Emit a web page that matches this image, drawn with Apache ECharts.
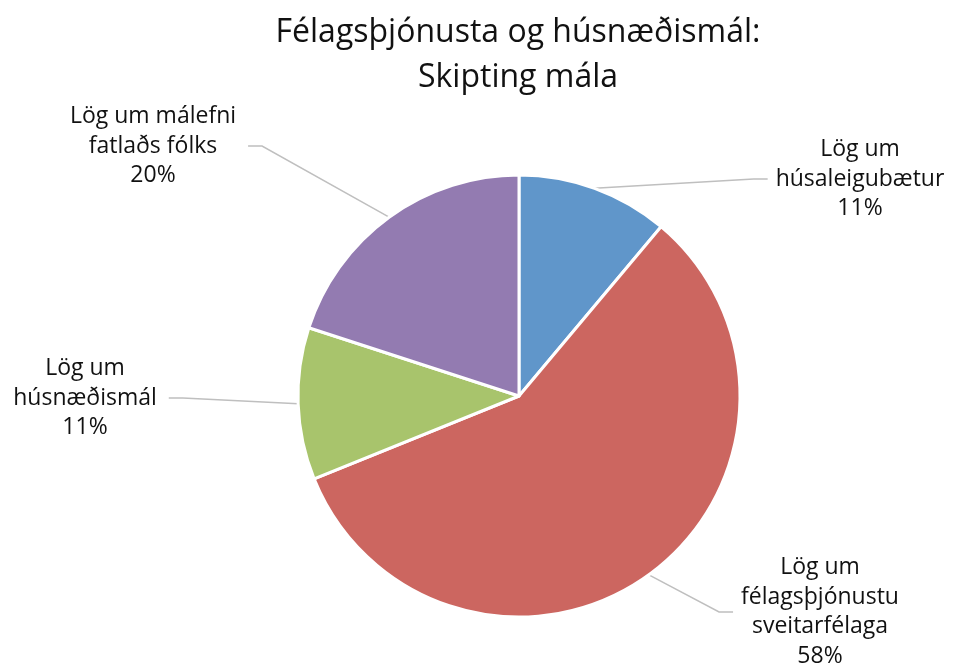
<!DOCTYPE html>
<html>
<head>
<meta charset="utf-8">
<title>Félagsþjónusta og húsnæðismál</title>
<script src="https://cdn.jsdelivr.net/npm/echarts@6/dist/echarts.min.js"></script>
<style>
  html, body { margin: 0; padding: 0; background: #fff; }
  #chart { width: 953px; height: 664px; }
</style>
</head>
<body>
<div id="chart"></div>
<script>
// flokkar og gildi (fjöldi mála)
var categories = [
    'Lög um\nhúsaleigubætur',
    'Lög um\nfélagsþjónustu\nsveitarfélaga',
    'Lög um\nhúsnæðismál',
    'Lög um málefni\nfatlaðs fólks'
];
var values = [5, 26, 5, 9];
var colors = ['#6096CA', '#CC6660', '#A8C46C', '#937BB1'];

// miðja hvers merkis (x, y) og hlið sem línan kemur að
var labelCenters = [[860, 179], [820, 612], [85, 398], [153, 146]];
var labelSide = ['left', 'left', 'right', 'right'];

var pieData = categories.map(function (name, i) {
    return { name: name, value: values[i] };
});

var myChart = echarts.init(document.getElementById('chart')),
    option = {
        animation: false,
        color: colors,
        textStyle: { fontFamily: 'Open Sans' },
        title: {
            text: 'Félagsþjónusta og húsnæðismál:\nSkipting mála',
            left: 513,
            textAlign: 'center',
            top: 5,
            textStyle: {
                fontFamily: 'Open Sans',
                fontWeight: 'normal',
                fontSize: 32,
                lineHeight: 45,
                color: '#111'
            }
        },
        series: [
            {
                type: 'pie',
                center: [519, 396],
                radius: 221,
                startAngle: 90,
                clockwise: true,
                percentPrecision: 0,
                avoidLabelOverlap: false,
                itemStyle: {
                    borderColor: '#fff',
                    borderWidth: 3
                },
                label: {
                    show: true,
                    position: 'outside',
                    formatter: '{b}\n{d}%',
                    fontFamily: 'Open Sans',
                    fontSize: 23,
                    lineHeight: 29.5,
                    color: '#111'
                },
                labelLine: {
                    show: true,
                    length: 20,
                    length2: 20,
                    lineStyle: { color: '#BFBFBF', width: 1.5 }
                },
                labelLayout: function (params) {
                    var i = params.dataIndex,
                        c = labelCenters[i],
                        w = params.labelRect.width,
                        start = params.labelLinePoints[0],
                        endX = labelSide[i] === 'left' ? c[0] - w / 2 - 8 : c[0] + w / 2 + 12,
                        bendX = labelSide[i] === 'left' ? endX - 14 : endX + 14;
                    return {
                        x: c[0],
                        y: c[1],
                        align: 'center',
                        verticalAlign: 'middle',
                        labelLinePoints: [start, [bendX, c[1]], [endX, c[1]]]
                    };
                },
                data: pieData
            }
        ]
    };

myChart.setOption(option);
</script>
</body>
</html>
